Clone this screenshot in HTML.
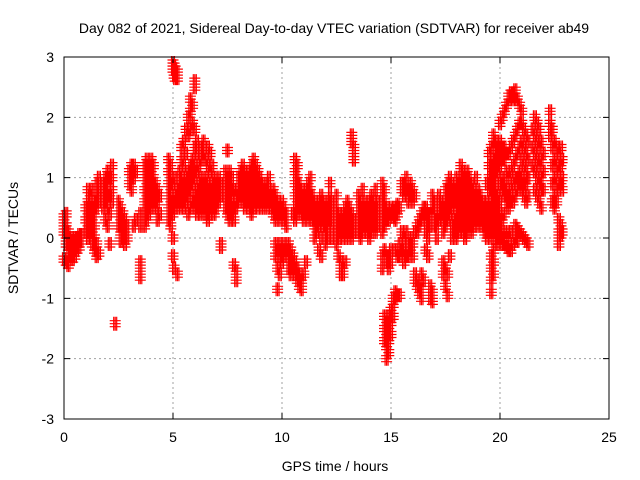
<!DOCTYPE html>
<html><head><meta charset="utf-8"><style>
html,body{margin:0;padding:0;background:#fff;}
svg{display:block;font-family:"Liberation Sans",sans-serif;}
</style></head><body>
<svg id="chart" width="640" height="480" viewBox="0 0 640 480">
<text x="334" y="33" text-anchor="middle" font-size="14">Day 082 of 2021, Sidereal Day-to-day VTEC variation (SDTVAR) for receiver ab49</text>
<g id="grid"></g>
<g id="points"></g>
<rect x="64" y="57" width="545" height="362" fill="none" stroke="#000" stroke-width="1"/>
<g id="ticks"></g>
<text x="335" y="471" text-anchor="middle" font-size="14">GPS time / hours</text>
<text transform="translate(18,238) rotate(-90)" text-anchor="middle" font-size="14">SDTVAR / TECUs</text>
</svg>
<script>
const xTicks = [0,5,10,15,20,25];
const yTicks = [-3,-2,-1,0,1,2,3];
const hours = [0.0,0.1,0.2,0.3,0.4,0.5,0.6,0.7,0.8,1.0,1.1,1.2,1.3,1.4,1.5,1.6,1.8,1.9,2.0,2.1,2.2,2.35,2.5,2.6,2.7,2.8,2.9,3.0,3.1,3.2,3.3,3.5,3.7,3.8,3.9,4.0,4.1,4.2,4.3,4.4,4.8,4.9,5.0,5.05,5.1,5.2,5.3,5.4,5.5,5.6,5.7,5.8,5.9,6.0,6.1,6.2,6.3,6.4,6.5,6.6,6.7,6.8,6.9,7.0,7.1,7.2,7.4,7.5,7.6,7.7,7.8,7.9,8.0,8.1,8.2,8.3,8.4,8.5,8.6,8.7,8.8,8.9,9.0,9.1,9.2,9.3,9.4,9.5,9.6,9.7,9.8,9.9,10.0,10.1,10.2,10.3,10.4,10.5,10.6,10.7,10.8,10.9,11.0,11.1,11.2,11.3,11.4,11.5,11.6,11.7,11.8,11.9,12.0,12.1,12.2,12.3,12.5,12.6,12.7,12.8,12.9,13.0,13.1,13.2,13.3,13.5,13.6,13.7,13.8,13.9,14.0,14.1,14.2,14.3,14.4,14.6,14.7,14.8,14.9,15.0,15.1,15.2,15.3,15.4,15.5,15.6,15.7,15.8,15.9,16.0,16.1,16.2,16.3,16.4,16.5,16.6,16.7,16.8,16.9,17.0,17.1,17.2,17.3,17.4,17.5,17.6,17.7,17.8,17.9,18.0,18.1,18.2,18.3,18.4,18.5,18.6,18.7,18.8,18.9,19.0,19.1,19.2,19.3,19.4,19.5,19.6,19.7,19.8,19.9,20.0,20.1,20.2,20.3,20.4,20.5,20.6,20.7,20.8,20.9,21.0,21.1,21.2,21.3,21.5,21.6,21.7,21.8,21.9,22.0,22.3,22.4,22.5,22.6,22.7,22.8,22.85];
const values = [
[0.35,0.25,0.1,-0.35],[0.4,0.2,0.0,-0.1,-0.4],[0.1,-0.1,-0.2,-0.3,-0.45],[0.0,-0.1,-0.2,-0.3],[-0.05,-0.15,-0.25,-0.35],[0.0,-0.1,-0.2,-0.3],[0.0,-0.1,-0.2],[0.05,-0.05,-0.15],[0.05,-0.05],
[0.1,0.3,0.5],[0.0,0.2,0.4,0.6,0.8],[0.1,0.3,0.5,0.7],[-0.1,0.1,0.3,0.5,0.8],[-0.2,0.0,0.2,0.4,0.6],[-0.3,-0.1,0.5,0.7,0.9],[-0.25,0.6,0.8,1.0],[0.5,0.7,0.9],[0.3,0.6,0.8,1.0],[0.2,0.5,0.7,0.9,1.1],[-0.1,0.4,0.7,1.0],[0.6,0.8,1.0,1.2],[-1.42],
[0.6,0.4,0.2],[0.5,0.3,0.1,-0.05],[0.4,0.2,0.0],[0.3,0.1,-0.1],[0.2,0.0],[0.9,1.1],[0.8,1.0,1.2],[1.0,1.2,0.2],[1.1,0.3],[-0.4,-0.55,-0.65,0.2,0.4],
[0.2,0.4,0.6,0.8,1.0,1.2],[0.3,0.5,0.7,0.9,1.1,1.3],[0.4,0.6,0.8,1.0,1.2],[0.5,0.7,0.9,1.1,1.3],[0.6,0.8,1.0,1.2],[0.5,0.7,0.9],[0.3,0.6,0.8],[0.4,0.7],
[0.3,0.5,0.7,0.9,1.1,1.3],[0.2,0.4,0.6,0.8,1.0,1.2],[2.9,2.8,0.0,0.4,0.6,0.9,-0.3],[2.85,2.75,2.7,-0.5],[2.8,2.7,2.65,0.5,0.7,1.0],[2.75,2.65,0.6,0.8,-0.6],
[0.5,0.7,0.9,1.1],[0.6,0.8,1.0,1.3,1.5],[0.5,0.7,0.9,1.2,1.6],[0.6,0.8,1.0,1.4,1.8],[0.4,0.7,0.9,1.1,1.7,2.0],[0.5,0.8,1.0,1.2,1.8,2.1,2.3],[0.6,0.9,1.1,1.3,1.9,2.2],[0.5,0.7,1.0,1.2,1.5,1.8,2.5,2.6],
[0.4,0.6,0.8,1.1,1.4,1.6],[0.5,0.7,0.9,1.2],[0.4,0.6,0.8,1.0,1.3,1.5],[0.5,0.7,0.9,1.4,1.6],[0.4,0.6,0.8,1.0,1.3],[0.3,0.5,0.7,0.9,1.2,1.5],[0.4,0.6,0.8,1.1,1.4],[0.5,0.7,0.9,1.2],[0.4,0.6,0.8,1.0],[0.5,0.7,0.9],[0.6,0.8,1.0],[-0.1,-0.15,0.7,0.9],
[0.5,0.7,0.9,1.1],[0.4,0.6,0.8,1.0,1.45],[0.3,0.5,0.7,0.9,1.1],[0.4,0.6,0.8,1.0],[0.3,0.5,0.8,-0.45],[0.5,0.7,-0.55,-0.7],
[0.6,0.8,1.0],[0.7,0.9,1.1],[0.6,0.8,1.0,1.2],[0.5,0.7,0.9,1.1],[0.6,0.8,1.0],[0.5,0.7,0.9,1.1],[0.4,0.6,0.8,1.0,1.2],[0.5,0.7,0.9,1.1,1.3],[0.6,0.8,1.0,1.2],[0.5,0.7,0.9,1.1],[0.6,0.8,1.0],[0.5,0.7,0.9],[0.6,0.8],[0.5,0.7,0.9],[0.6,0.8,1.0],[0.5,0.7],[0.4,0.6,0.8],
[0.3,0.5,0.7,-0.1,-0.3],[0.4,0.6,-0.2,-0.5,-0.85],[0.3,0.5,-0.1,-0.3,-0.6],[0.4,0.6,-0.2,-0.4],[0.3,0.5,-0.1,-0.3],[0.2,0.4,-0.2],[-0.1,-0.3,-0.5],[-0.2,-0.4,-0.6],[-0.3,-0.5,0.4],
[1.3,1.1,0.9,0.7,0.5,0.3,-0.4,-0.6],[1.2,1.0,0.8,0.6,0.4,-0.5,-0.7],[0.9,0.7,0.5,-0.6,-0.8],[0.8,0.6,0.4,-0.7,-0.85],[0.7,0.5,0.3,-0.6],[0.8,0.6,0.4,-0.4],[0.9,0.7,0.5,0.3],[0.8,0.6,0.4,1.0],[0.7,0.5,0.3],[0.6,0.4,0.2,0.0],[0.5,0.3,0.1],[0.6,0.4,0.2,-0.2],[0.7,0.5,0.3,0.0,-0.3],[0.6,0.4,0.2],
[0.5,0.3,0.1,-0.1],[0.6,0.4,0.2,0.0],[0.7,0.5,0.3,0.9],[0.6,0.4,0.2,0.0],[0.5,0.3,0.1,-0.1,0.7],[0.4,0.2,0.0,-0.3],[0.3,0.1,-0.4,-0.5,-0.6],[0.4,0.2,0.0,-0.5,-0.6],[0.5,0.3,0.1,-0.4],[0.6,0.4,0.2,0.0],[0.5,0.3,0.1],[0.4,0.2,0.0,1.7,1.6],[0.3,0.1,1.5,1.4,1.3],
[0.5,0.3,0.1,0.7],[0.6,0.4,0.2,0.0],[0.5,0.3,0.1,0.8],[0.4,0.2,0.6],[0.5,0.3,0.1],[0.6,0.4,0.2,0.0],[0.7,0.5,0.3,0.1],[0.6,0.4,0.2],[0.5,0.3,0.1,0.8],[0.6,0.4,0.2],
[0.9,0.7,0.5,0.3,0.1,-0.3,-0.5],[0.8,0.6,0.4,0.2,-0.2,-1.3,-1.5,-1.7],[0.5,0.3,-0.3,-0.4,-1.4,-1.6,-1.8,-2.0],[0.4,0.3,-0.3,-0.5,-1.3,-1.5,-1.7,-1.9],[0.5,0.4,-0.2,-0.4,-1.2,-1.4,-1.6],[0.45,0.35,-1.0,-1.1,-1.3],[0.5,0.3,-0.9,-1.0,-0.2],[0.55,0.4,-0.3,-0.95],[0.5,-0.1,-0.3,-0.95],
[0.8,0.9,0.1,-0.2],[0.7,0.9,0.0,-0.2,-0.4],[0.8,1.0,0.1,-0.3],[0.6,0.8,-0.1,-0.3],[0.7,0.9,0.0,-0.2],[0.8,0.6,-0.1,-0.3],[0.7,0.1,-0.6,-0.7],[0.1,0.2,-0.7,-0.8],[0.2,0.3,-0.8,-0.9],[0.3,0.4,-0.85,-1.0,-0.6],[0.4,0.5,-0.7],[0.1,0.3,0.5,-0.2],[0.0,0.2,0.4,-0.3],[0.2,0.4,-0.8,-0.9,-1.0],[0.5,0.7,-0.9,-1.05],
[0.2,0.4,0.6],[0.0,0.2,0.3],[0.3,0.5,0.7],[0.4,0.6],[0.1,0.3,0.5,-0.4,-0.6],[0.2,0.4,0.6,0.8,-0.5,-0.8],[0.3,0.5,0.7,0.9,-0.6,-0.95],[0.4,0.6,0.8,1.0,-0.3],[0.0,0.2,0.5,0.7,0.9],[0.1,0.3,0.6,0.8],
[0.0,0.2,0.4,0.6,0.8,1.0],[0.1,0.3,0.5,0.7,0.9],[0.2,0.4,0.6,0.8,1.0,1.2],[0.1,0.3,0.5,0.7,0.9,1.1],[0.0,0.2,0.4,0.6,0.8,1.0],[0.1,0.3,0.5,0.7,0.9,1.1],[0.2,0.4,0.6,0.8,1.0],[0.1,0.3,0.5,0.7,0.9],[0.2,0.4,0.6,0.8],[0.3,0.5,0.7,1.0],[0.2,0.4,0.6,0.8],[0.3,0.5,0.7],[0.4,0.6,0.2],[0.3,0.5,0.1],[0.0,0.2,0.4,0.6,0.9],
[0.1,0.3,0.5,0.8,1.0,1.2,1.4],[-0.3,-0.5,-0.7,-0.9,0.0,0.2,0.4,0.6,0.8,1.0,1.2,1.5],[-0.2,-0.4,-0.6,0.1,0.3,0.5,0.7,0.9,1.1,1.3,1.6,1.7],[0.0,0.2,0.4,0.6,0.8,1.0,1.2,1.4,1.6],[-0.1,0.1,0.3,0.5,0.7,1.1,1.3,1.5],
[0.0,0.2,0.4,0.6,0.9,1.2,1.4,1.6,1.9],[-0.1,0.1,0.3,0.8,1.0,1.3,1.5,2.0],[-0.1,0.0,0.4,0.7,0.9,1.3,1.5,2.1],[-0.15,0.1,0.6,0.8,1.1,1.4,2.2],[-0.2,0.0,0.5,0.7,1.0,1.4,2.3,2.35],[-0.2,0.1,0.6,0.8,1.1,1.5,2.35,2.4],[-0.1,0.6,0.9,1.2,1.6,2.3,2.4],[0.0,0.2,0.7,1.0,1.3,1.7,2.35,2.45],[-0.05,0.15,0.8,1.0,1.4,1.8,2.3],[0.1,0.9,1.1,1.5,1.9,2.2],
[0.05,0.8,1.0,1.3,1.6,1.9,2.1],[0.0,0.7,0.9,1.2,1.5,1.8],[-0.05,0.6,0.9,1.1,1.4,1.7],[-0.1,0.7,1.0,1.3,1.6],[1.8,1.5,1.2],[2.0,1.7,1.4,1.1,0.8],[1.9,1.6,1.3,1.0,0.7],[1.8,1.5,1.2,0.9,0.6],[1.6,1.3,1.0,0.8,0.5],[1.4,1.1,0.8],
[2.1,1.9,1.7],[1.8,1.5,1.2,0.9,0.6],[1.6,1.3,1.0,0.7,0.5],[1.5,1.2,0.9,0.6],[1.4,1.1,0.8,0.3,0.1,0.0,-0.1],[1.5,1.2,0.9,0.2,0.05],[1.3,1.0,0.8,0.1]
];
const NS = "http://www.w3.org/2000/svg";
const X0 = 64, X1 = 609, Y0 = 419, Y1 = 57;
function xs(h){ return X0 + (h - 0) / 25 * (X1 - X0); }
function ys(v){ return Y0 - (v + 3) / 6 * (Y0 - Y1); }
const grid = document.getElementById('grid');
const ticks = document.getElementById('ticks');
const svg = document.getElementById('chart');
xTicks.forEach(t => {
  const x = xs(t);
  if (t > 0 && t < 25) {
    const g = document.createElementNS(NS, 'line');
    g.setAttribute('x1', x); g.setAttribute('x2', x); g.setAttribute('y1', Y1); g.setAttribute('y2', Y0);
    g.setAttribute('stroke', '#a0a0a0'); g.setAttribute('stroke-dasharray', '2,3');
    
    
    grid.appendChild(g);
  }
  const tk = document.createElementNS(NS, 'path');
  tk.setAttribute('d', `M${x},${Y0}v-6M${x},${Y1}v6`);
  tk.setAttribute('stroke', '#000');
  
  
  ticks.appendChild(tk);
  const lb = document.createElementNS(NS, 'text');
  lb.setAttribute('x', x); lb.setAttribute('y', 442); lb.setAttribute('text-anchor', 'middle'); lb.setAttribute('font-size', '14');
  lb.textContent = t;
  
  
  svg.appendChild(lb);
});
yTicks.forEach(t => {
  const y = ys(t);
  if (t > -3 && t < 3) {
    const g = document.createElementNS(NS, 'line');
    g.setAttribute('x1', X0); g.setAttribute('x2', X1); g.setAttribute('y1', y); g.setAttribute('y2', y);
    g.setAttribute('stroke', '#a0a0a0'); g.setAttribute('stroke-dasharray', '2,3');
    
    
    grid.appendChild(g);
  }
  const tk = document.createElementNS(NS, 'path');
  tk.setAttribute('d', `M${X0},${y}h6M${X1},${y}h-6`);
  tk.setAttribute('stroke', '#000');
  
  
  ticks.appendChild(tk);
  const lb = document.createElementNS(NS, 'text');
  lb.setAttribute('x', 54); lb.setAttribute('y', y + 5); lb.setAttribute('text-anchor', 'end'); lb.setAttribute('font-size', '14');
  lb.textContent = t;
  
  
  svg.appendChild(lb);
});
const pts = document.getElementById('points');
let d = '';
hours.forEach((h, i) => {
  (values[i] || []).forEach(v => {
    const x = xs(h), y = ys(v);
    // heavy "+" marker: a cluster of crosses to mimic the dense overplotting
    [-1.5, 0, 1.5].forEach(ox => {
      [-3, 0, 3].forEach(oy => {
        d += `M${(x+ox-4).toFixed(1)},${(y+oy).toFixed(1)}h8M${(x+ox).toFixed(1)},${(y+oy-4).toFixed(1)}v8`;
      });
    });
  });
});
const p = document.createElementNS(NS, 'path');
p.setAttribute('d', d);
p.setAttribute('stroke', '#ff0000');
p.setAttribute('stroke-width', '1.2');
p.setAttribute('fill', 'none');


pts.appendChild(p);
</script>
</body></html>
